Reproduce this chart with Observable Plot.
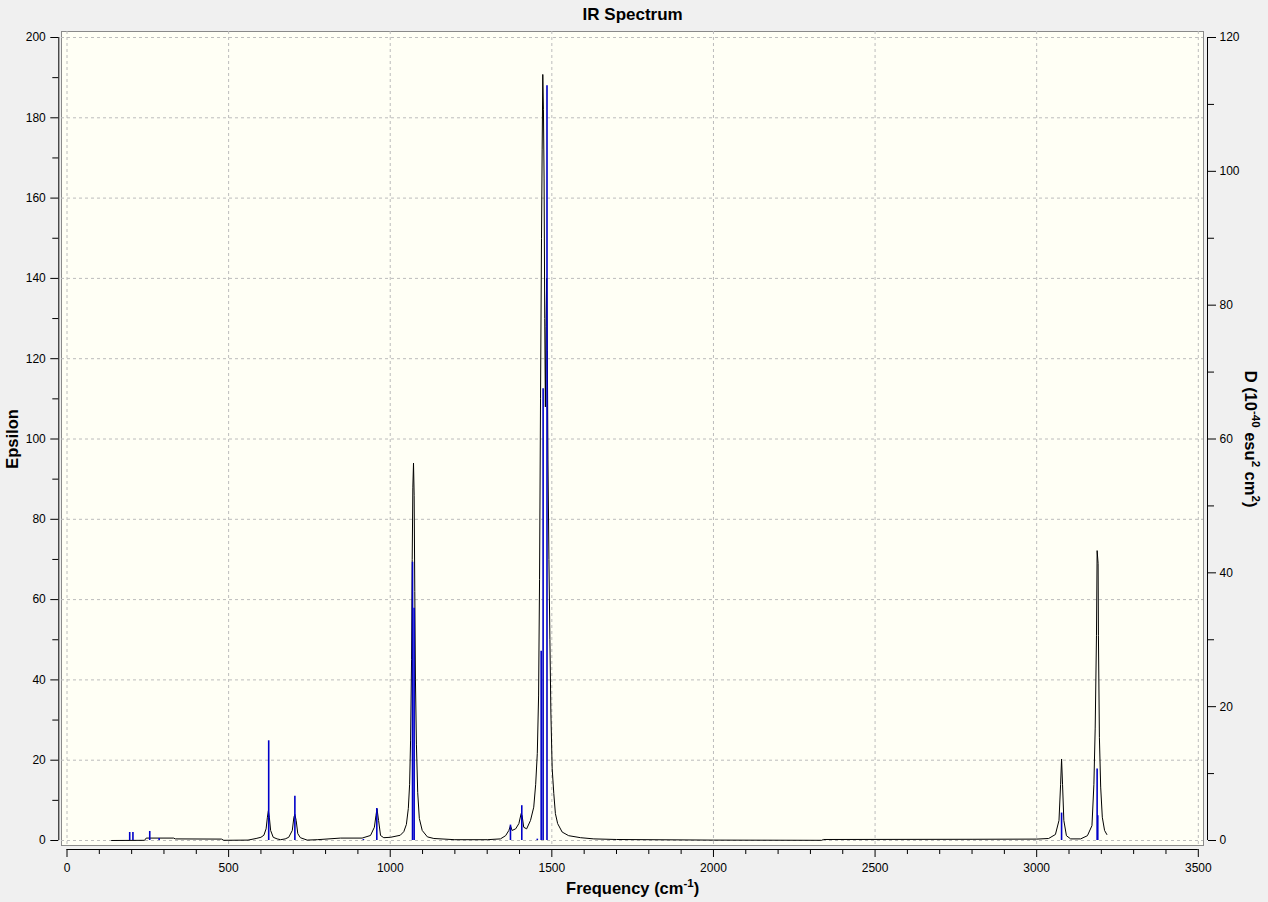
<!DOCTYPE html>
<html><head><meta charset="utf-8">
<script src="https://cdn.jsdelivr.net/npm/d3@7"></script>
<script src="https://cdn.jsdelivr.net/npm/@observablehq/plot@0.6"></script>
<style>
html,body{margin:0;padding:0;background:#f0f0f0;}
#chart{width:1268px;height:902px;overflow:hidden;}
</style></head><body><div id="chart"></div>
<script>
// Broadened spectrum (Epsilon, left axis)
const curveFreq = [138,240,245,330,335,478,485,560,585,600,609,616,620,623,626,630,638,650,661,675,686,697,702,705,709,714,722,743,774,846,913,939,951,956,959,964,970,980,1001,1031,1042,1050,1056,1060,1063,1066,1068,1070,1072,1074,1076,1078,1081,1085,1090,1099,1115,1135,1200,1300,1341,1357,1367,1372,1377,1388,1398,1405,1408,1413,1422,1434,1444,1450,1455,1459,1462,1465,1468,1470,1472,1474,1476,1478,1480,1482,1484,1486,1488,1491,1494,1497,1501,1506,1511,1518,1532,1552,1589,1630,1700,2000,2335,2340,2800,3000,3037,3058,3069,3074,3077,3080,3084,3092,3105,3136,3157,3171,3177,3181,3185,3187,3190,3191,3194,3198,3203,3210,3217];
const curveEps  = [0.0,0.05,0.6,0.6,0.4,0.35,0.05,0.1,0.5,0.8,1.3,2.9,5.8,7.4,5.8,2.5,0.8,0.4,0.2,0.4,0.8,2.5,5.8,6.5,5.0,1.7,0.7,0.1,0.2,0.6,0.6,1.25,3.3,6.3,7.9,5.0,1.25,0.7,0.8,1.3,2.2,4,8,14,25,45,70,88,94,86,62,40,24,12,5.5,2.5,0.9,0.5,0.2,0.2,0.4,1.2,2.5,3.7,2.5,2.9,4.2,6.7,6.2,3.3,2.9,5,8.3,14,21.7,36,65,110,150,172,190.8,182,165,130,108,128,140,122,95,70,50,32,18,11.7,6.7,4.2,2.1,1.2,0.7,0.4,0.25,0.1,0.05,0.25,0.3,0.35,0.5,1.5,5,14,20.3,14,5,1.2,0.4,0.4,1.2,3.7,14,28,51,72.2,69,51,25.7,13.3,5.8,2.5,1.5];
// Stick spectrum (D, right axis)
const stickFreq = [194,204,256,285,624,705,917,958.5,1069,1074,1372,1407,1455,1467,1473,1485,3077,3187,3189];
const stickD    = [1.2,1.2,1.35,0.3,14.9,6.6,0.15,4.8,41.6,34.7,2.3,5.2,0.2,28.3,67.5,112.8,4.1,10.7,3.7];
// Axes
const xMajorTicks = [0,500,1000,1500,2000,2500,3000,3500];
const xMinorTicks = [100,200,300,400,600,700,800,900,1100,1200,1300,1400,1600,1700,1800,1900,2100,2200,2300,2400,2600,2700,2800,2900,3100,3200,3300,3400];
const yLeftTicks = [0,20,40,60,80,100,120,140,160,180,200];
const yLeftMinor = [10,30,50,70,90,110,130,150,170,190];
const yRightTicks = [0,20,40,60,80,100,120];
const yRightMinor = [10,30,50,70,90,110];
const EPS_MAX = 200, D_MAX = 120;
const TITLE = "IR Spectrum";
const X_LABEL = "Frequency (cm-1)";
const Y_LABEL = "Epsilon";
const Y2_LABEL = "D (10-40 esu2 cm2)";

const curve = curveFreq.map((f, i) => ({f, e: curveEps[i]}));
const sticks = stickFreq.map((f, i) => ({f, d: stickD[i]}));
const toEps = d => d * EPS_MAX / D_MAX;
const FONT = "'Liberation Sans', Arial, sans-serif";

const plot = Plot.plot({
  width: 1268, height: 902,
  marginLeft: 66.5, marginRight: 70.2, marginTop: 37, marginBottom: 62,
  x: {domain: [0, 3500]},
  y: {domain: [0, EPS_MAX]},
  style: {fontFamily: FONT, fontSize: "12px", background: "transparent", color: "black"},
  marks: [
    Plot.frame({fill: "#fffff5", stroke: "#8a8a8a", insetLeft: -5.5, insetRight: -5.2, insetTop: -6, insetBottom: -5}),
    Plot.ruleX(xMajorTicks, {stroke: "#bcbcbc", strokeDasharray: "3,3", insetTop: -6, insetBottom: -5}),
    Plot.ruleY(yLeftTicks, {stroke: "#bcbcbc", strokeDasharray: "3,3", insetLeft: -5.5, insetRight: -5.2}),
    Plot.line(curve, {x: "f", y: "e", stroke: "black", strokeWidth: 1}),
    Plot.ruleX(sticks, {x: "f", y1: 0, y2: d => toEps(d.d), stroke: "#0000c8", strokeWidth: 1.6}),
    // left axis
    Plot.axisY(yLeftTicks, {anchor: "left", tickSize: 8, tickPadding: 5, dx: -8.2, label: null, tickFormat: d => String(d)}),
    Plot.axisY(yLeftMinor, {anchor: "left", tickSize: 6, dx: -8.2, fill: "none", label: null}),
    Plot.ruleX([0], {y1: 0, y2: EPS_MAX, dx: -8.2, stroke: "black"}),
    // right axis
    Plot.axisY(yRightTicks.map(toEps), {anchor: "right", tickSize: 8, tickPadding: 4, dx: 9.2, label: null, tickFormat: v => String(Math.round(v * D_MAX / EPS_MAX))}),
    Plot.axisY(yRightMinor.map(toEps), {anchor: "right", tickSize: 6, dx: 9.2, fill: "none", label: null}),
    Plot.ruleX([3500], {y1: 0, y2: EPS_MAX, dx: 9.2, stroke: "black"}),
    // bottom axis
    Plot.axisX(xMajorTicks, {anchor: "bottom", tickSize: 8, tickPadding: 6, dy: 9, label: null, tickFormat: d => String(d)}),
    Plot.axisX(xMinorTicks, {anchor: "bottom", tickSize: 5, dy: 9, fill: "none", label: null}),
    Plot.ruleY([0], {x1: 0, x2: 3500, dy: 9, stroke: "black"}),
    // titles
    Plot.text([TITLE], {text: d => d, frameAnchor: "top", textAnchor: "middle", dy: -23, fontWeight: "bold", fontSize: 17, lineAnchor: "middle"}),
    Plot.text([X_LABEL], {text: d => d, frameAnchor: "bottom", textAnchor: "middle", dy: 48, fontWeight: "bold", fontSize: 16.5, lineAnchor: "middle"}),
    Plot.text([Y_LABEL], {text: d => d, frameAnchor: "left", textAnchor: "middle", dx: -54.5, rotate: -90, fontWeight: "bold", fontSize: 16.5, lineAnchor: "middle"}),
    Plot.text([Y2_LABEL], {text: d => d, frameAnchor: "right", textAnchor: "middle", dx: 52, rotate: 90, fontWeight: "bold", fontSize: 16.5, lineAnchor: "middle"})
  ]
});
document.getElementById("chart").appendChild(plot);

// superscripts in axis titles
const NS = "http://www.w3.org/2000/svg";
function richText(el, parts) {
  while (el.firstChild) el.removeChild(el.firstChild);
  let shift = 0;
  for (const [str, sup] of parts) {
    const t = document.createElementNS(NS, "tspan");
    const target = sup ? -7 : 0;
    t.setAttribute("dy", String(target - shift));
    shift = target;
    if (sup) t.setAttribute("font-size", "11.5");
    t.textContent = str;
    el.appendChild(t);
  }
}
plot.querySelectorAll("text").forEach(el => {
  if (el.textContent === X_LABEL) richText(el, [["Frequency (cm", false], ["-1", true], [")", false]]);
  if (el.textContent === Y2_LABEL) richText(el, [["D (10", false], ["-40", true], [" esu", false], ["2", true], [" cm", false], ["2", true], [")", false]]);
});
</script></body></html>
